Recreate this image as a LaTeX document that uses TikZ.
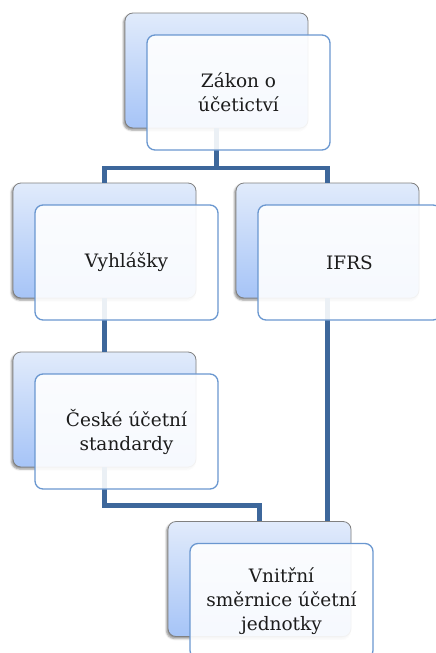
\documentclass[tikz,border=0pt]{standalone}
\usepackage{fontspec}
\setmainfont{DejaVu Serif}
\usetikzlibrary{shadows.blur}
\definecolor{conncol}{HTML}{3D679B}
\definecolor{backtop}{HTML}{E1EBFB}
\definecolor{backbot}{HTML}{A6C4F7}
\definecolor{backedge}{HTML}{808080}
\definecolor{frontedge}{HTML}{6A97D0}
\definecolor{txt}{HTML}{1C1C1C}
\begin{document}
\begin{tikzpicture}[x=1pt,y=-1pt,
  backbox/.style={draw=backedge, line width=0.8pt, rounded corners=8pt,
    top color=backtop, bottom color=backbot,
    minimum width=183pt, minimum height=115pt, inner sep=0pt,
    blur shadow={shadow xshift=-1.5pt, shadow yshift=-2pt, shadow blur radius=2pt, shadow opacity=45}},
  frontbox/.style={draw=frontedge, line width=1.3pt, rounded corners=8pt,
    fill=white, fill opacity=0.9, text opacity=1, text=txt,
    minimum width=183pt, minimum height=115pt, inner sep=2pt, align=center,
    font=\fontsize{18.5}{24}\selectfont},
  conn/.style={draw=conncol, line width=4.5pt, line join=miter}]
\useasboundingbox (0,0) rectangle (436,653);
% back boxes
\node[backbox] (zb) at (216.5,70.5) {};
\node[backbox] (vb) at (104.5,240.5) {};
\node[backbox] (ib) at (327.5,240.5) {};
\node[backbox] (cb) at (104.5,409.5) {};
\node[backbox] (nb) at (259.5,579) {};
% connectors
\coordinate (bus) at (0,168);
\draw[conn] (zb.south) -- (zb.south |- bus);
\draw[conn] (vb.north) -- (vb.north |- bus) -| (ib.north);
\draw[conn] (vb.south) -- (cb.north);
\draw[conn] (cb.south) -- ++(0,38) -| (nb.north);
\draw[conn] (ib.south) -- (ib.south |- nb.north);
% front boxes
\node[frontbox] (zf) at ([shift={(22,22)}]zb.center) {Zákon o\\účetictví};
\node[frontbox] (vf) at ([shift={(22,22)}]vb.center) {Vyhlášky};
\node[frontbox] (if) at ([shift={(22,22)}]ib.center) {IFRS};
\node[frontbox] (cf) at ([shift={(22,22)}]cb.center) {České účetní\\standardy};
\node[frontbox] (nf) at ([shift={(22,22)}]nb.center) {Vnitřní\\směrnice účetní\\jednotky};
\end{tikzpicture}
\end{document}
